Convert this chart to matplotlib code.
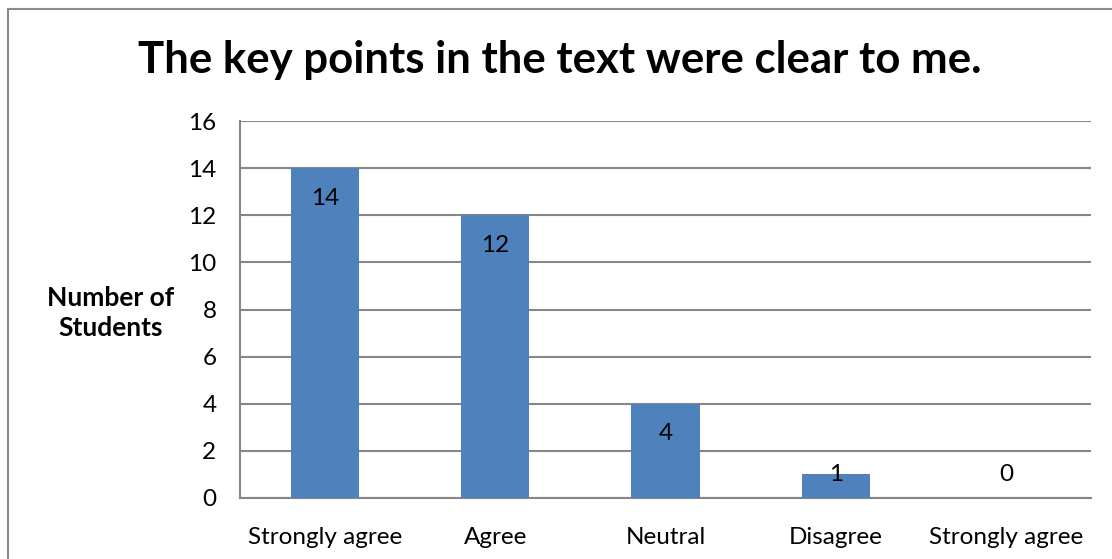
import matplotlib.pyplot as plt
from matplotlib.patches import Rectangle

plt.rcParams['font.family'] = ['Lato', 'DejaVu Sans']

categories = ['Strongly agree', 'Agree', 'Neutral', 'Disagree', 'Strongly agree']
counts = [14, 12, 4, 1, 0]
yticks = [0, 2, 4, 6, 8, 10, 12, 14, 16]

fig = plt.figure(figsize=(11.12, 5.59), dpi=100)
# chart border
fig.patches.append(Rectangle((8 / 1112, -0.05), 1.2, 1 - 9 / 559 + 0.05,
                             transform=fig.transFigure, fill=False,
                             edgecolor='#8c8c8c', linewidth=1.5))

ax = fig.add_axes([240 / 1112, 1 - 498 / 559, 851 / 1112, 377 / 559])
x = range(len(categories))
ax.bar(x, counts, width=0.4, color='#4f81bd', zorder=3)

for i, v in enumerate(counts):
    ax.text(i, max(v - 1.28, 0.98), str(v), ha='center', va='center',
            fontsize=17.5, zorder=4)

ax.set_xlim(-0.5, len(categories) - 0.5)
ax.set_ylim(0, 16)
ax.set_yticks(yticks)
ax.set_xticks(list(x))
ax.set_xticklabels(categories)
ax.tick_params(axis='both', length=0, labelsize=17.5)
ax.tick_params(axis='y', pad=17)
ax.tick_params(axis='x', pad=21)
ax.grid(axis='y', color='#868686', linewidth=1.5, zorder=0)

for s in ['top', 'right']:
    ax.spines[s].set_visible(False)
for s in ['left', 'bottom']:
    ax.spines[s].set_color('#868686')
    ax.spines[s].set_linewidth(1.5)

ax.set_ylabel('Number of\nStudents', rotation=0, fontsize=19, fontweight='bold',
              ha='center', va='center', linespacing=1.3)
ax.yaxis.set_label_coords(-0.152, 0.49)

fig.text(0.5 + 8 / 1112 / 2, 1 - 60 / 559, 'The key points in the text were clear to me.',
         ha='center', va='center', fontsize=31.5, fontweight='bold')

fig.savefig('out.png')
